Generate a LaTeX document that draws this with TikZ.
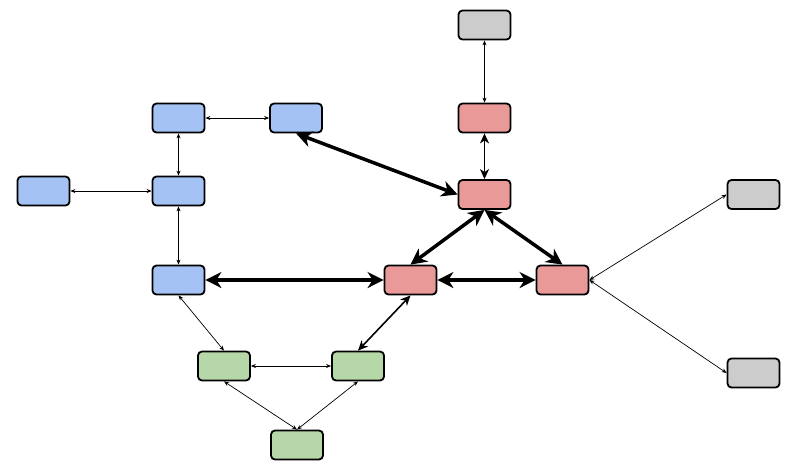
\documentclass[tikz,border=0pt]{standalone}
\usetikzlibrary{arrows.meta}
\definecolor{cblue}{HTML}{A4C2F4}
\definecolor{cred}{HTML}{EA9999}
\definecolor{cgreen}{HTML}{B6D7A8}
\definecolor{cgray}{HTML}{CCCCCC}
\begin{document}
\begin{tikzpicture}[x=1pt,y=-1pt,
  box/.style={draw=black,line width=1.8pt,rounded corners=4pt,minimum width=52pt,minimum height=29pt,inner sep=0pt},
  bl/.style={box,fill=cblue},
  rd/.style={box,fill=cred},
  gr/.style={box,fill=cgreen},
  gy/.style={box,fill=cgray},
  thin link/.style={line width=0.7pt,{Stealth[length=5pt,width=4pt]}-{Stealth[length=5pt,width=4pt]}},
  mid link/.style={line width=1.6pt,{Stealth[length=10pt,width=9pt,inset=3pt]}-{Stealth[length=10pt,width=9pt,inset=3pt]}},
  thick link/.style={line width=3.5pt,{Stealth[length=16pt,width=16pt,inset=5pt]}-{Stealth[length=16pt,width=16pt,inset=5pt]}}
]
\useasboundingbox (0,0) rectangle (792,467);
\node[gy] (g1) at (484.5,25) {};
\node[rd] (r1) at (484.5,118) {};
\node[rd] (r2) at (484.5,194.5) {};
\node[rd] (r3) at (410.5,280) {};
\node[rd] (r4) at (562.5,280) {};
\node[gy] (g2) at (753.5,194.5) {};
\node[gy] (g3) at (753.5,373) {};
\node[bl] (b1) at (178.5,118) {};
\node[bl] (b2) at (296,118) {};
\node[bl] (b3) at (43.5,191) {};
\node[bl] (b4) at (178.5,191) {};
\node[bl] (b5) at (178.5,280) {};
\node[gr] (v1) at (224,366) {};
\node[gr] (v2) at (358,366) {};
\node[gr] (v3) at (297,445) {};

\draw[thin link] (g1.south) -- (r1.north);
\draw[mid link] (r1.south) -- (r2.north);
\draw[thick link] (b2.south) -- (r2.west);
\draw[thick link] (r2.south) -- (r3.north);
\draw[thick link] (r2.south) -- (r4.north);
\draw[thick link] (r3.east) -- (r4.west);
\draw[thick link] (b5.east) -- (r3.west);
\draw[mid link] (r3.south) -- (v2.north);
\draw[thin link] (r4.east) -- (g2.west);
\draw[thin link] (r4.east) -- (g3.west);
\draw[thin link] (b1.east) -- (b2.west);
\draw[thin link] (b1.south) -- (b4.north);
\draw[thin link] (b3.east) -- (b4.west);
\draw[thin link] (b4.south) -- (b5.north);
\draw[thin link] (b5.south) -- (v1.north);
\draw[thin link] (v1.east) -- (v2.west);
\draw[thin link] (v1.south) -- (v3.north);
\draw[thin link] (v2.south) -- (v3.north);
\end{tikzpicture}
\end{document}
